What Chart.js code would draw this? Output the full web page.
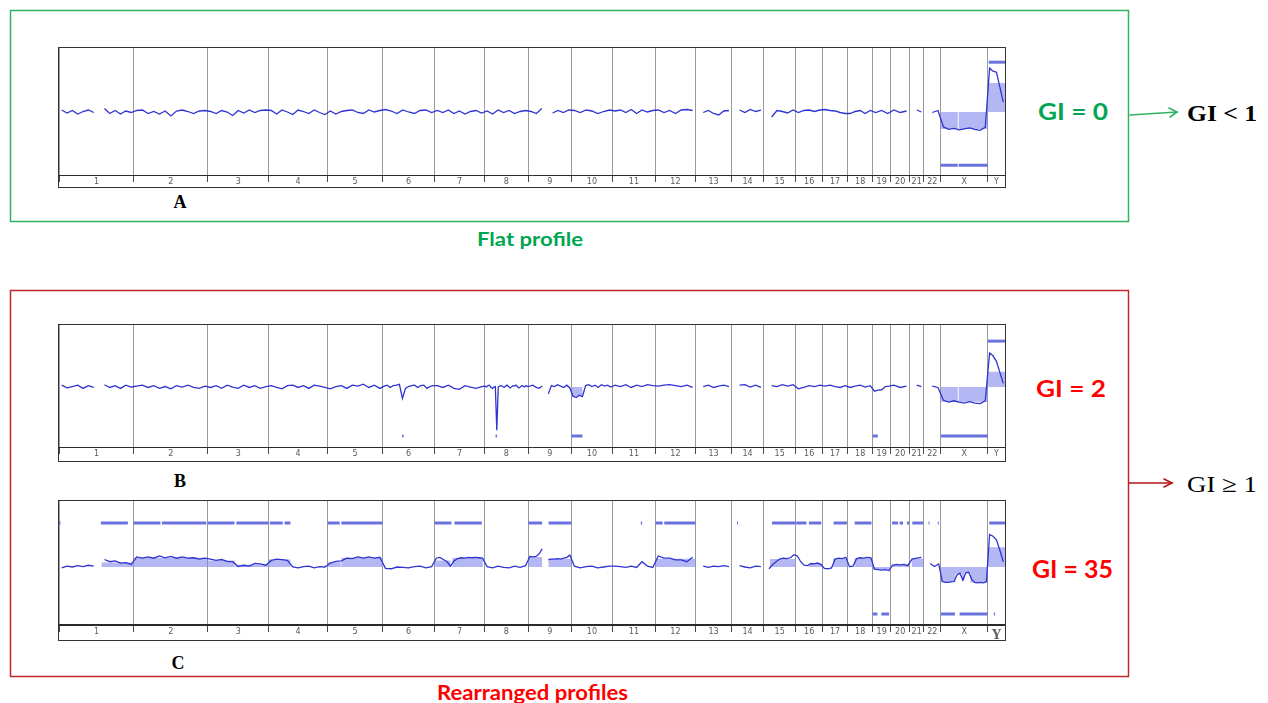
<!DOCTYPE html>
<html>
<head>
<meta charset="utf-8">
<script src="https://cdn.jsdelivr.net/npm/chart.js@4.4.0/dist/chart.umd.min.js"></script>
<style>
  html, body { margin: 0; padding: 0; background: #fff; }
  #page { position: relative; width: 1268px; height: 703px; overflow: hidden; background: #fff; }
  .panel { position: absolute; left: 58px; width: 946px; border: 1px solid #333; background: #fff; }
  .panel canvas { display: block; }
  svg { position: absolute; left: 0; top: 0; }
</style>
</head>
<body>
<div id="page">
  <svg width="1268" height="703" viewBox="0 0 1268 703">
    <!-- group frames -->
    <rect x="10.5" y="10.5" width="1118" height="211" fill="none" stroke="#2fb463" stroke-width="1.5"/>
    <rect x="10.5" y="290.5" width="1118" height="386" fill="none" stroke="#c0272d" stroke-width="1.5"/>
    <!-- arrows -->
    <g stroke="#2fb463" stroke-width="1.6" fill="none" stroke-linecap="round">
      <line x1="1130" y1="115" x2="1177" y2="112"/>
      <polyline points="1169,108 1177,112 1170,117"/>
    </g>
    <g stroke="#b3141b" stroke-width="1.6" fill="none" stroke-linecap="round">
      <line x1="1129" y1="483" x2="1172" y2="483"/>
      <polyline points="1164,479 1172,483 1164,487"/>
    </g>
    <!-- captions -->
    <text x="477" y="246" textLength="106" lengthAdjust="spacingAndGlyphs" font-family="Lato, 'Open Sans', sans-serif" font-weight="700" font-size="19" fill="#00a651">Flat profile</text>
    <text x="437" y="700" textLength="191" lengthAdjust="spacingAndGlyphs" font-family="Lato, 'Open Sans', sans-serif" font-weight="700" font-size="20" fill="#ff0000">Rearranged profiles</text>
    <text x="180" y="208" text-anchor="middle" font-family="'Liberation Serif', serif" font-weight="700" font-size="18" fill="#000">A</text>
    <text x="180" y="487" text-anchor="middle" font-family="'Liberation Serif', serif" font-weight="700" font-size="18" fill="#000">B</text>
    <text x="178" y="669" text-anchor="middle" font-family="'Liberation Serif', serif" font-weight="700" font-size="18" fill="#000">C</text>
    <text x="1038" y="120" textLength="70" lengthAdjust="spacingAndGlyphs" font-family="Lato, 'Open Sans', sans-serif" font-weight="700" font-size="23" fill="#00a651">GI = 0</text>
    <text x="1036" y="397" textLength="70" lengthAdjust="spacingAndGlyphs" font-family="Lato, 'Open Sans', sans-serif" font-weight="700" font-size="22" fill="#ff0000">GI = 2</text>
    <text x="1032" y="578" textLength="81" lengthAdjust="spacingAndGlyphs" font-family="Lato, 'Open Sans', sans-serif" font-weight="700" font-size="24" fill="#ff0000">GI = 35</text>
    <text x="1187" y="121" textLength="70" lengthAdjust="spacingAndGlyphs" font-family="'Liberation Serif', serif" font-weight="700" font-size="23" fill="#000">GI &lt; 1</text>
    <text x="1187" y="492" textLength="70" lengthAdjust="spacingAndGlyphs" font-family="'Liberation Serif', serif" font-weight="400" font-size="23" fill="#000">GI ≥ 1</text>
  </svg>
  <div class="panel" style="top:47px;height:139px"><canvas id="chartA" width="946" height="139"></canvas></div>
  <div class="panel" style="top:324px;height:136px"><canvas id="chartB" width="946" height="136"></canvas></div>
  <div class="panel" style="top:500px;height:139px"><canvas id="chartC" width="946" height="139"></canvas></div>
</div>
<script>
// Chromosome layout along the genome axis (Mb as displayed)
const chromNames   = ['1','2','3','4','5','6','7','8','9','10','11','12','13','14','15','16','17','18','19','20','21','22','X','Y'];
const chromLengths = [245,242,199,193,180,170,163,144,141,134,141,131,118,105,105,88,82,82,59,62,46,56,154,56];

// Log2 ratio profiles: per chromosome, values at evenly spaced positions (null = no probes)
const profileA = [
  [0.04,-0.02,0.03,-0.04,0.01,0.04,-0.01,null,0.07,-0.03,0.03,-0.04,0.02,-0.01],
  [0.03,0.04,-0.03,0.01,-0.04,0.02,-0.08,0.02,0.04,0.01,-0.03,0.02,0.03],
  [0.01,-0.03,0.03,0.00,-0.07,0.03,-0.02,0.04,-0.01,0.03,0.04],
  [0.03,-0.04,0.04,0.00,-0.05,0.04,0.01,-0.03,0.04,-0.01,-0.05],
  [0.02,-0.04,0.01,0.03,0.04,-0.01,-0.03,0.04,0.00,0.03],
  [0.05,0.02,-0.03,0.04,0.00,-0.03,0.03,0.04,-0.01],
  [0.03,-0.01,0.04,-0.03,0.02,-0.04,0.01,0.03,-0.02],
  [0.02,-0.04,0.04,-0.01,0.03,-0.03,0.01,0.03],
  [0.01,-0.03,0.07,null,-0.02,0.03,-0.01,0.04],
  [0.03,-0.01,0.04,0.02,-0.03,0.01,0.04],
  [0.02,0.04,-0.01,0.05,-0.03,0.04,0.00,0.03],
  [0.04,-0.01,0.03,-0.03,0.04,0.05,0.03],
  [null,-0.01,0.03,-0.03,-0.06,0.02,0.03],
  [null,0.04,-0.01,0.05,0.01,0.04],
  [null,-0.10,0.03,0.01,-0.02,0.04],
  [-0.01,0.03,0.04,0.01,0.04],
  [0.05,0.03,0.02,-0.01,-0.03],
  [-0.03,0.01,0.03,-0.03,0.03],
  [-0.01,0.03,-0.03],
  [0.04,-0.01,0.02],
  [null,0.04,0.00],
  [null,-0.01,0.03],
  [-0.30,-0.35,-0.33,-0.36,-0.34,-0.32,-0.35,-0.37,-0.31],
  [0.88,0.82,0.80,0.50,0.20]
];
const profileB = [
  [0.04,-0.02,0.01,0.04,-0.03,0.03,-0.01,null,0.05,-0.01,0.03,-0.03,0.04,0.00],
  [0.02,0.04,-0.01,0.03,-0.03,0.01,-0.04,0.03,0.00,0.04,-0.01,-0.03,0.02],
  [-0.01,0.03,-0.03,0.04,0.00,-0.03,0.04,-0.01,0.03,-0.03,0.01],
  [0.03,-0.01,-0.04,0.03,0.04,-0.01,0.03,-0.03,0.04,0.02,-0.01],
  [-0.04,0.01,0.03,-0.03,0.04,0.02,0.06,-0.01,0.04,-0.03],
  [0.02,0.04,-0.01,0.03,0.04,0.06,-0.25,-0.03,0.01,0.03,0.04,-0.01,0.03,0.04,-0.03,0.01,0.03],
  [0.03,-0.01,0.04,-0.03,-0.05,0.03,0.00,-0.03,0.01],
  [0.02,0.00,0.03,0.04,-0.01,-0.03,0.00,0.01,-0.94,0.00,0.02,0.03,0.01,-0.01,0.02,0.04,0.01,-0.02,0.00,0.03,0.02,0.04,0.01,-0.02,0.00,0.03,0.02,0.00,0.03,0.01],
  [0.02,0.04,-0.01,-0.03,0.02,null,-0.15,0.03,0.01,0.05,0.02,-0.01,0.04,-0.02],
  [-0.20,-0.23,-0.18,-0.21,0.03,0.05,0.01,0.04,-0.01,0.05,0.02,0.04,0.00],
  [0.04,0.01,0.05,-0.01,0.04,0.01,0.05,0.03],
  [0.02,0.04,0.05,0.03,0.01,0.04,-0.01],
  [null,0.01,0.04,-0.01,0.02,0.04,0.01],
  [null,0.04,0.05,0.00,0.04,-0.01],
  [null,0.03,0.01,0.05,0.02,0.05],
  [-0.04,-0.01,0.03,0.01,0.04],
  [0.02,0.04,0.01,-0.01,0.03],
  [-0.01,0.02,0.04,0.00,0.03],
  [-0.09,-0.07,-0.06,0.01,0.02],
  [0.04,-0.01,0.02],
  [null,0.04,0.01],
  [null,0.02,-0.01],
  [-0.29,-0.33,-0.30,-0.33,-0.35,-0.32,-0.35,-0.36,-0.30],
  [0.74,0.68,0.56,0.32,0.08]
];
const profileC = [
  [-0.02,0.02,0.00,0.03,0.01,0.04,0.02,null,0.17,0.12,0.14,0.09,0.10,0.06],
  [0.23,0.20,0.23,0.20,0.25,0.21,0.24,0.20,0.23,0.20,0.21,0.18,0.20],
  [0.18,0.15,0.17,0.13,0.12,0.01,0.04,0.02,0.08,0.07,0.04],
  [0.15,0.18,0.17,0.15,0.00,-0.02,0.01,0.02,-0.02,0.01,0.00],
  [0.09,0.13,0.14,0.20,0.19,0.23,0.20,0.23,0.20,0.22],
  [-0.03,-0.04,0.00,-0.01,-0.02,0.01,0.02,-0.02,0.01],
  [0.20,0.22,0.17,0.12,0.02,0.14,0.19,0.21,0.20,0.22,0.21,0.22,0.21,0.20],
  [0.01,-0.02,0.02,-0.01,-0.02,0.02,-0.01,0.03],
  [0.24,0.23,0.24,0.30,0.41,null,0.17,0.18,0.18,0.19,0.18,0.20,0.22,0.27],
  [0.02,-0.02,0.01,0.02,-0.02,0.00,0.02],
  [0.02,0.01,-0.01,0.02,-0.01,0.12,0.02,-0.01],
  [0.25,0.20,0.20,0.16,0.16,0.12,0.22],
  [null,0.02,-0.01,0.02,0.01,0.03,0.01],
  [null,0.03,0.00,-0.02,0.02,0.01],
  [null,-0.04,0.05,0.12,0.18,0.20,0.19,0.21,0.28],
  [0.25,0.12,0.04,0.03,0.08,0.07,0.09,0.06],
  [-0.03,-0.04,-0.02,0.18,0.20,0.19,0.22],
  [0.01,0.02,0.19,0.21,0.20,0.22,0.21],
  [-0.05,-0.06,-0.07,-0.06,-0.08],
  [0.04,0.06,0.05,0.06,0.03],
  [0.18,0.20,0.22],
  [null,0.08,0.01,0.07],
  [-0.33,-0.35,-0.35,-0.34,-0.33,-0.18,-0.14,-0.30,-0.13,-0.12,-0.28,-0.35,-0.36,-0.35,-0.36,-0.33],
  [0.74,0.70,0.62,0.38,0.12]
];

// Segment means drawn as shaded areas: [chromosome index, start fraction, end fraction, mean log2 ratio]
const segmentsA = [[22,0,0.36,-0.34],[22,0.38,1,-0.34],[23,0,1,0.58]];
const segmentsB = [[9,0,0.27,-0.20],[22,0,0.36,-0.32],[22,0.38,1,-0.32],[23,0,1,0.33]];
const segmentsC = [
  [0,0.57,1,0.10],[1,0,1,0.21],[2,0,0.44,0.15],[2,0.45,1,0.05],[3,0,0.37,0.17],
  [4,0,0.24,0.11],[4,0.25,1,0.21],[6,0,0.32,0.15],[6,0.36,0.97,0.21],[8,0,0.32,0.23],
  [8,0.47,1,0.19],[11,0,1,0.19],[14,0.2,1,0.18],[15,0.48,1,0.07],[16,0.42,1,0.19],
  [17,0.28,1,0.20],[18,0,1,-0.06],[19,0,1,0.05],[20,0.15,1,0.19],
  [22,0,0.31,-0.34],[22,0.31,0.45,-0.16],[22,0.45,0.5,-0.30],[22,0.5,0.63,-0.13],[22,0.63,1,-0.35],
  [23,0,1,0.45]
];

// Aberration calls: [chromosome index, start fraction, end fraction, +1 gain / -1 loss]
const callsA = [[22,0,0.36,-1],[22,0.38,1,-1],[23,0.05,1,1]];
const callsB = [[5,0.375,0.405,-1],[7,0.255,0.29,-1],[9,0,0.27,-1],[18,0,0.28,-1],[22,0,1,-1],[23,0,1,1]];
const callsC = [
  [0,0,0.02,1],[0,0.56,0.92,1],[1,0,0.36,1],[1,0.38,0.98,1],[2,0,0.44,1],[2,0.47,1,1],
  [3,0.02,0.24,1],[3,0.27,0.37,1],[4,0,0.22,1],[4,0.25,1,1],[6,0,0.34,1],[6,0.40,0.95,1],
  [8,0,0.32,1],[8,0.47,1,1],[10,0.66,0.69,1],[11,0,0.18,1],[11,0.22,1,1],[13,0.17,0.2,1],
  [14,0.26,1,1],[15,0.02,0.4,1],[15,0.49,0.95,1],[16,0.44,0.97,1],[17,0.28,0.95,1],
  [18,0,0.26,-1],[18,0.48,0.91,-1],[19,0.07,0.39,1],[19,0.47,0.65,1],[19,0.86,0.97,1],
  [20,0.19,0.95,1],[21,0.28,0.34,1],[21,0.82,0.88,1],[22,0,0.3,-1],[22,0.4,1,-1],
  [23,0.35,0.42,-1],[23,0.08,1,1]
];

// ---- genome coordinates ----
const chromStarts = [];
let genomeLen = 0;
chromLengths.forEach(l => { chromStarts.push(genomeLen); genomeLen += l; });
const boundaries = chromStarts.concat([genomeLen]);
const mids = chromStarts.map((s, i) => s + chromLengths[i] / 2);
const boundarySet = new Set(boundaries);
const labelAt = new Map(mids.map((m, i) => [m, chromNames[i]]));
const tickValues = boundaries.concat(mids).sort((a, b) => a - b);
const midY = mids[23];

const gpos = (c, f) => chromStarts[c] + f * chromLengths[c];

function profilePoints(profile) {
  const pts = [];
  profile.forEach((vals, c) => {
    const n = vals.length;
    vals.forEach((v, i) => pts.push({ x: chromStarts[c] + (i + 0.5) / n * chromLengths[c], y: v }));
  });
  return pts;
}
function segmentPoints(segs) {
  const pts = [{ x: 0, y: 0 }];
  segs.forEach(([c, f0, f1, m]) => {
    const a = gpos(c, f0), b = gpos(c, f1);
    pts.push({ x: a, y: 0 }, { x: a, y: m }, { x: b, y: m }, { x: b, y: 0 });
  });
  pts.push({ x: genomeLen, y: 0 });
  return pts;
}
function callPoints(calls, sign, level) {
  const pts = [];
  calls.filter(k => k[3] === sign).forEach(([c, f0, f1]) => {
    pts.push({ x: gpos(c, f0), y: level }, { x: gpos(c, f1), y: level }, { x: gpos(c, f1), y: null });
  });
  return pts;
}

function drawProfile(id, profile, segs, calls, opt) {
  const isBoundary = ctx => ctx.tick && boundarySet.has(ctx.tick.value);
  new Chart(document.getElementById(id), {
    type: 'line',
    data: {
      datasets: [
        { data: profilePoints(profile), borderColor: '#2f34d0', borderWidth: 1.3, pointRadius: 0, tension: 0, spanGaps: false, order: 1 },
        { data: callPoints(calls, 1, 1.0), borderColor: '#6a72de', borderWidth: 3, borderCapStyle: 'butt', pointRadius: 0, spanGaps: false, order: 2 },
        { data: callPoints(calls, -1, -1.07), borderColor: '#6a72de', borderWidth: 3, borderCapStyle: 'butt', pointRadius: 0, spanGaps: false, order: 2 },
        { data: segmentPoints(segs), borderWidth: 0, borderColor: 'rgba(0,0,0,0)', backgroundColor: 'rgba(132,139,236,0.62)', fill: 'origin', pointRadius: 0, tension: 0, order: 3 }
      ]
    },
    options: {
      responsive: false,
      animation: false,
      events: [],
      layout: { padding: 0 },
      plugins: { legend: { display: false }, tooltip: { enabled: false } },
      scales: {
        x: {
          type: 'linear', min: 0, max: genomeLen,
          afterBuildTicks: s => { s.ticks = tickValues.map(v => ({ value: v })); },
          afterFit: s => { s.height = opt.strip; },
          grid: {
            drawOnChartArea: true, drawTicks: true, tickLength: 7, lineWidth: 1,
            color: ctx => isBoundary(ctx) ? '#9a9a9a' : 'rgba(0,0,0,0)',
            tickColor: ctx => isBoundary(ctx) ? '#4a4a4a' : 'rgba(0,0,0,0)'
          },
          border: { display: true, color: '#2a2a2a', width: opt.axisWidth },
          ticks: {
            autoSkip: false, maxRotation: 0, minRotation: 0, padding: -5, color: '#5a5a5a',
            font: ctx => (opt.bigY && ctx.tick && ctx.tick.value === midY)
              ? { family: "'Liberation Serif', serif", size: 14, weight: 'bold' }
              : { family: "'DejaVu Sans', sans-serif", size: 8 },
            callback: v => labelAt.get(v) || ''
          }
        },
        y: { display: false, min: opt.ymin, max: opt.ymax }
      }
    }
  });
}

drawProfile('chartA', profileA, segmentsA, callsA, { ymin: -1.265, ymax: 1.285, strip: 12, axisWidth: 1 });
drawProfile('chartB', profileB, segmentsB, callsB, { ymin: -1.307, ymax: 1.351, strip: 14, axisWidth: 1 });
drawProfile('chartC', profileC, segmentsC, callsC, { ymin: -1.318, ymax: 1.50, strip: 15, axisWidth: 2, bigY: true });
</script>
</body>
</html>
